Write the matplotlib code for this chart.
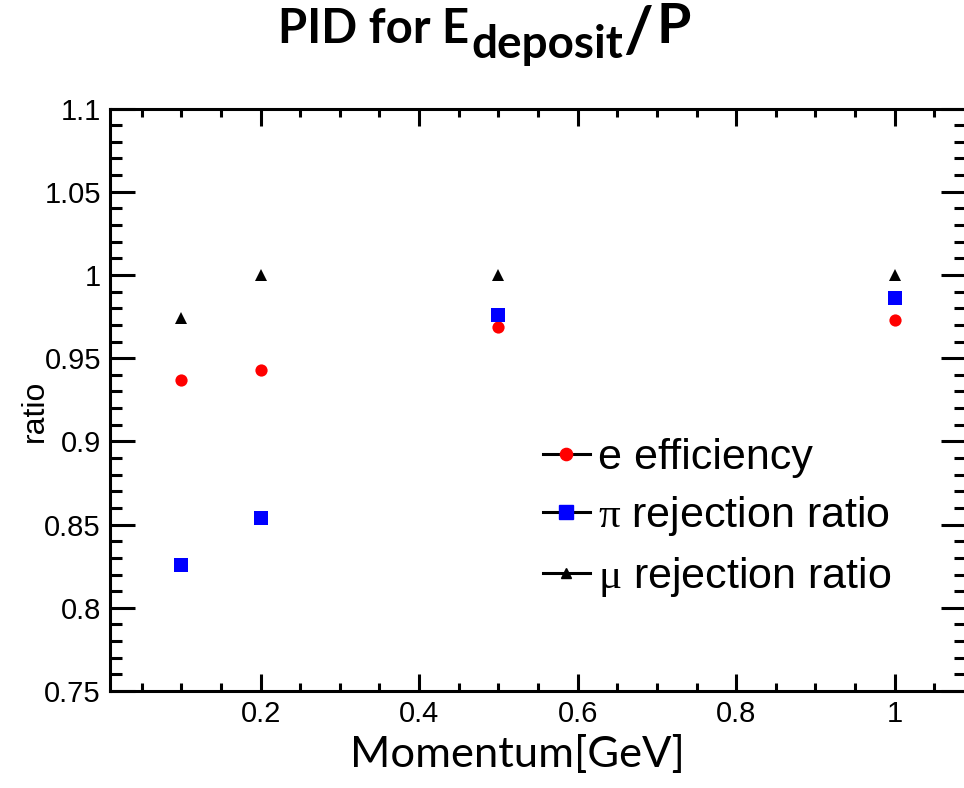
import matplotlib
matplotlib.use("Agg")
import matplotlib.pyplot as plt
from matplotlib.lines import Line2D
from matplotlib.ticker import MultipleLocator, FuncFormatter

plt.rcParams["mathtext.fontset"] = "custom"
plt.rcParams["mathtext.rm"] = "Liberation Serif"
plt.rcParams["font.family"] = ["Liberation Sans", "DejaVu Sans"]

# Momentum points [GeV]
momentum = [0.1, 0.2, 0.5, 1.0]

# PID performance from E_deposit/P
e_efficiency = [0.937, 0.943, 0.969, 0.973]
pi_rejection = [0.826, 0.854, 0.976, 0.986]
mu_rejection = [0.974, 1.000, 1.000, 1.000]

series_labels = ["e efficiency", r"$\mathrm{\pi}$ rejection ratio", r"$\mathrm{\mu}$ rejection ratio"]
series_colors = ["#ff0000", "#0000ff", "#000000"]
series_markers = ["o", "s", "^"]

W, H = 964, 788
fig = plt.figure(figsize=(W / 100, H / 100), dpi=100)

def fx(px):
    return px / W

def fy(py):
    return 1 - py / H

ax = fig.add_axes([fx(110), fy(691), fx(966) - fx(110), fy(108.5) - fy(691)])
ax.set_xlim(0.01, 1.09)
ax.set_ylim(0.75, 1.1)

msize = {"o": 8.8, "s": 9.4, "^": 8.8}
for vals, col, mk in zip([e_efficiency, pi_rejection, mu_rejection], series_colors, series_markers):
    ax.plot(momentum, vals, linestyle="none", marker=mk, color=col,
            markersize=msize[mk], markeredgewidth=0)

for sp in ax.spines.values():
    sp.set_linewidth(2.2)

ax.xaxis.set_major_locator(MultipleLocator(0.2))
ax.xaxis.set_minor_locator(MultipleLocator(0.05))
ax.yaxis.set_major_locator(MultipleLocator(0.05))
ax.yaxis.set_minor_locator(MultipleLocator(0.01))
ax.xaxis.set_major_formatter(FuncFormatter(lambda v, p: f"{v:g}"))
ax.yaxis.set_major_formatter(FuncFormatter(lambda v, p: f"{round(v, 3):g}"))

ax.tick_params(axis="both", which="both", direction="in", top=True, right=True, width=2.2)
ax.tick_params(axis="x", which="major", length=12.5, pad=6.5, labelsize=21)
ax.tick_params(axis="x", which="minor", length=6)
ax.tick_params(axis="y", which="major", length=18, pad=6.5, labelsize=21)
ax.tick_params(axis="y", which="minor", length=8.6)

# Legend entries: black line through a coloured marker
handles = [Line2D([], [], color="black", lw=2.2, marker=mk, markerfacecolor=col,
                  markeredgecolor=col, markersize=(msize[mk] if mk != "^" else 6.5))
           for col, mk in zip(series_colors, series_markers)]
leg = ax.legend(handles, series_labels, loc="upper left", frameon=False,
                bbox_to_anchor=(fx(543), fy(438)), bbox_transform=fig.transFigure,
                fontsize=31, handlelength=1.09, handletextpad=0.19,
                labelspacing=0.38, borderpad=0, borderaxespad=0)

# Axis titles
fig.text(fx(517.5), fy(767), "Momentum[GeV]", family="Lato", fontsize=31.3,
         ha="center", va="baseline")
fig.text(fx(43), fy(411), "ratio", fontsize=23, rotation=90,
         rotation_mode="anchor", ha="center", va="baseline")

# Title with subscript, assembled piece by piece
fig.canvas.draw()
r = fig.canvas.get_renderer()
t1 = fig.text(fx(278), fy(43), "PID for E", family="Lato", weight="bold",
              fontsize=34, ha="left", va="baseline")
x1 = t1.get_window_extent(r).x1
t2 = fig.text(x1 / W + fx(2), fy(58), "deposit", family="Lato", weight="bold",
              fontsize=33, ha="left", va="baseline")
x2 = t2.get_window_extent(r).x1
t3 = fig.text(x2 / W, fy(52), "/", family="Lato", weight="bold",
              fontsize=46, ha="left", va="baseline")
x3 = t3.get_window_extent(r).x1
fig.text(x3 / W + fx(4), fy(43), "P", family="Lato", weight="bold",
         fontsize=40, ha="left", va="baseline")

fig.savefig("out.png", dpi=100)
